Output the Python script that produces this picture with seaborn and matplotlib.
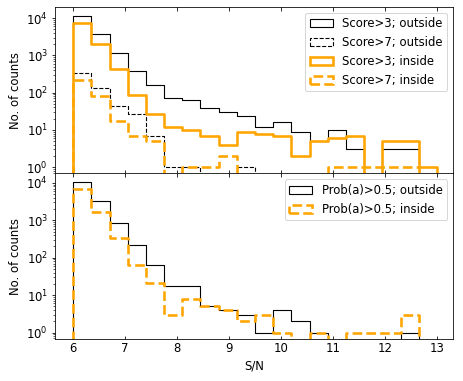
import numpy as np
import pandas as pd
import matplotlib
matplotlib.use("Agg")
import matplotlib.pyplot as plt
import seaborn as sns
from matplotlib.patches import Patch

# bin edges of the S/N histograms (20 bins, 6 -> 13)
bin_edges = [6.0, 6.35, 6.7, 7.05, 7.4, 7.75, 8.1, 8.45, 8.8, 9.15, 9.5,
             9.85, 10.2, 10.55, 10.9, 11.25, 11.6, 11.95, 12.3, 12.65, 13.0]

# top panel counts per bin
score3_outside = [11700, 3850, 1180, 390, 163, 74, 62, 39, 30, 24,
                  12, 16, 9, 5, 10, 3, 0, 3, 3, 0]
score7_outside = [330, 135, 44, 27, 7, 1, 1, 0, 0, 1,
                  0, 0, 0, 0, 0, 0, 0, 0, 0, 0]
score3_inside = [7300, 2000, 420, 89, 26, 12, 10, 7, 4, 9,
                 8, 7, 2, 5, 6, 7, 0, 5, 5, 1]
score7_inside = [225, 83, 17, 7, 5, 0, 1, 1, 2, 0,
                 0, 0, 0, 0, 1, 1, 1, 1, 1, 0]

# bottom panel counts per bin
prob_outside = [10600, 3250, 870, 215, 66, 18, 18, 5, 4, 3,
                1, 4, 2, 1, 0, 0, 0, 0, 1, 0]
prob_inside = [6650, 1620, 330, 66, 21, 3, 8, 5, 4, 2,
               3, 1, 0, 1, 0, 1, 1, 1, 3, 0]

top_labels = ["Score>3; outside", "Score>7; outside",
              "Score>3; inside", "Score>7; inside"]
bottom_labels = ["Prob(a)>0.5; outside", "Prob(a)>0.5; inside"]

FS = 11.6
plt.rcParams["font.size"] = FS

edges = np.array(bin_edges)
width = edges[1] - edges[0]
edges_pad = [float(edges[0] - width)] + list(bin_edges) + [float(edges[-1] + width)]
centers = 0.5 * (edges[:-1] + edges[1:])

W, H, DPI = 463, 381, 72
fig = plt.figure(figsize=(W / DPI, H / DPI), dpi=DPI)
left, right = 55 / W, 453 / W
ax_top = fig.add_axes([left, 1 - 173.5 / H, right - left, (173.5 - 7) / H])
ax_bot = fig.add_axes([left, 1 - 339 / H, right - left, (339 - 173.5) / H],
                      sharex=ax_top)

styles = {
    "k-": dict(color="black", linewidth=1.1, linestyle="-"),
    "k--": dict(color="black", linewidth=1.1, linestyle="--"),
    "o-": dict(color="orange", linewidth=2.6, linestyle="-"),
    "o--": dict(color="orange", linewidth=2.6, linestyle="--"),
}


def step(ax, counts, st):
    df = pd.DataFrame({"sn": centers, "n": np.array(counts, dtype=float)})
    sns.histplot(data=df, x="sn", weights="n",
                 bins=edges_pad, element="step", fill=False, ax=ax,
                 **styles[st])


step(ax_top, score3_outside, "k-")
step(ax_top, score7_outside, "k--")
step(ax_top, score3_inside, "o-")
step(ax_top, score7_inside, "o--")

step(ax_bot, prob_outside, "k-")
step(ax_bot, prob_inside, "o--")

for ax in (ax_top, ax_bot):
    ax.set_yscale("log")
    ax.set_xlim(5.65, 13.31)
    ax.set_ylabel("No. of counts", fontsize=FS)
    ax.tick_params(axis="x", which="both", direction="in", top=True,
                   labelsize=FS)
    ax.tick_params(axis="y", labelsize=FS)

ax_top.set_ylim(10 ** -0.17, 10 ** 4.30)
ax_bot.set_ylim(10 ** -0.17, 10 ** 4.25)
ax_top.tick_params(axis="x", labelbottom=False)
ax_top.set_xlabel("")
ax_bot.set_xlabel("S/N", fontsize=FS)
ax_bot.set_xticks([6, 7, 8, 9, 10, 11, 12, 13])


def handles(keys, labels):
    out = []
    for k, lab in zip(keys, labels):
        s = styles[k]
        out.append(Patch(facecolor="none", edgecolor=s["color"],
                         linewidth=s["linewidth"], linestyle=s["linestyle"],
                         label=lab))
    return out


ax_top.legend(handles=handles(["k-", "k--", "o-", "o--"], top_labels),
              loc="upper right", fontsize=FS)
ax_bot.legend(handles=handles(["k-", "o--"], bottom_labels),
              loc="upper right", fontsize=FS)

fig.savefig("out.png", dpi=DPI)
